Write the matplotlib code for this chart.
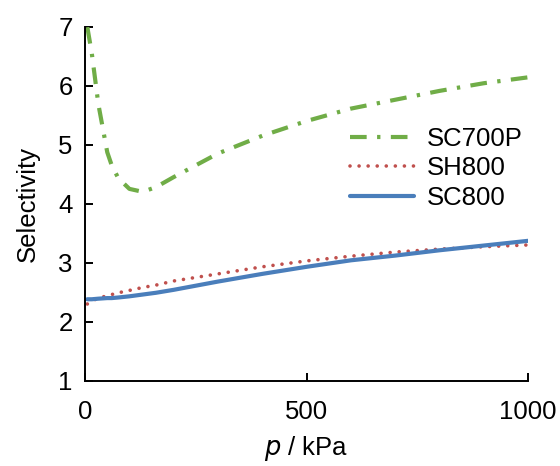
import matplotlib
matplotlib.use('Agg')
import matplotlib.pyplot as plt

plt.rcParams['font.family'] = ['Liberation Sans', 'DejaVu Sans']

# data
pressure = [5, 15, 30, 50, 60, 75, 100, 130, 160, 200, 300, 400, 500, 600, 700, 800, 900, 1000]
sc700p = [6.99, 6.55, 5.68, 4.87, 4.65, 4.43, 4.25, 4.20, 4.28, 4.45, 4.85, 5.15, 5.40, 5.61, 5.76, 5.91, 6.04, 6.14]
sh800 = [2.30, 2.35, 2.40, 2.44, 2.46, 2.49, 2.53, 2.58, 2.62, 2.69, 2.81, 2.93, 3.03, 3.11, 3.18, 3.23, 3.27, 3.30]
sc800 = [2.38, 2.38, 2.39, 2.40, 2.40, 2.41, 2.43, 2.46, 2.49, 2.54, 2.68, 2.81, 2.93, 3.04, 3.12, 3.21, 3.29, 3.37]

fig = plt.figure(figsize=(5.6, 4.66), dpi=100)
ax = fig.add_axes([0.152, 0.183, 0.791, 0.760])

ax.plot(pressure, sc700p, color='#70AD47', lw=3.0, dashes=(4.0, 2.5, 0.8, 2.5), label='SC700P')
ax.plot(pressure, sh800, color='#C0504D', lw=2.6, dashes=(0.01, 2.5), dash_capstyle='round', label='SH800')
ax.plot(pressure, sc800, color='#4A7EBB', lw=3.0, solid_capstyle='round', label='SC800')

ax.set_xlim(0, 1000)
ax.set_ylim(1, 7)
ax.set_xticks([0, 500, 1000])
ax.set_yticks([1, 2, 3, 4, 5, 6, 7])

for s in ['top', 'right']:
    ax.spines[s].set_visible(False)
for s in ['left', 'bottom']:
    ax.spines[s].set_linewidth(1.4)

ax.tick_params(direction='in', length=5.5, width=1.4, labelsize=18.5)
ax.tick_params(axis='x', pad=14)
ax.tick_params(axis='y', pad=9)

ax.set_xlabel('$p$ / kPa', fontsize=18.5, labelpad=7)
ax.set_ylabel('Selectivity', fontsize=18.5, labelpad=13)

ax.legend(loc='center left', bbox_to_anchor=(0.545, 0.6), frameon=False, fontsize=18.5,
          handlelength=2.5, handletextpad=0.5, labelspacing=0.22)

plt.savefig('out.png')
plt.close()
